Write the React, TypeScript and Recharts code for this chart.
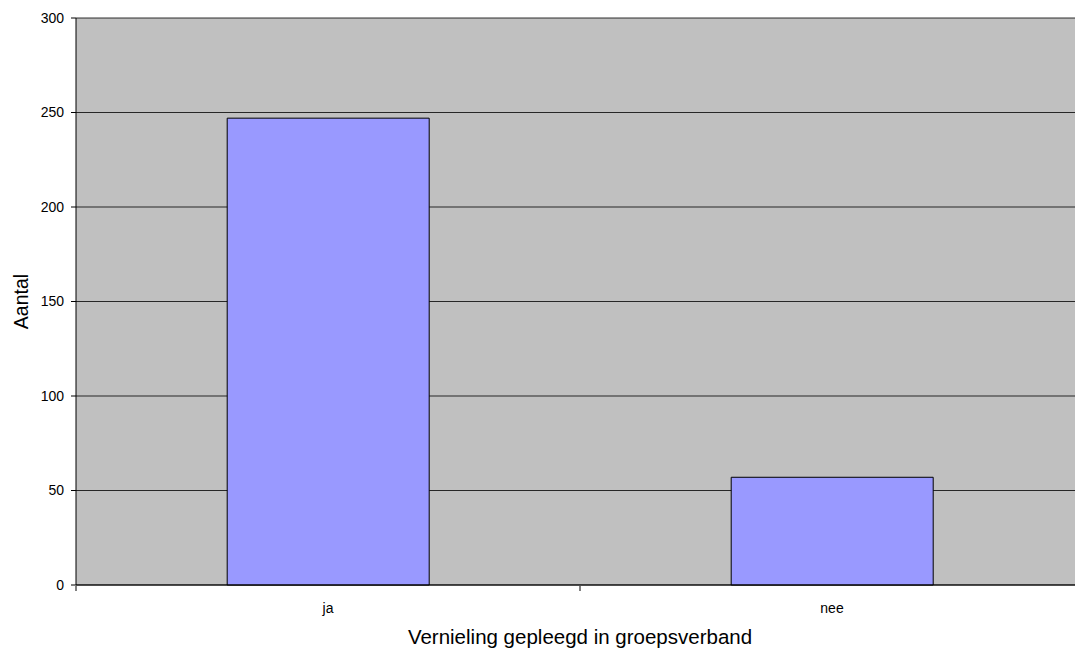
import { Bar, BarChart, CartesianGrid, XAxis, YAxis, Label } from "recharts";

const categories = ["ja", "nee"];
const counts = [247, 57];
const yTicks = [0, 50, 100, 150, 200, 250, 300];

const data = categories.map((name, i) => ({ name, aantal: counts[i] }));

const font = "Arial, 'Liberation Sans', sans-serif";
const halfBand = 252;

// category labels plus Excel-style tick marks between the categories
function CategoryTick(props: any) {
  const { x, y, payload, index } = props;
  return (
    <g>
      {index === 0 && <line x1={x - halfBand} x2={x - halfBand} y1={y - 17} y2={y - 12} stroke="#000" />}
      <line x1={x + halfBand} x2={x + halfBand} y1={y - 17} y2={y - 12} stroke="#000" />
      <text x={x} y={y + 10} textAnchor="middle" fill="#000" fontSize={14} fontFamily={font}>
        {payload.value}
      </text>
    </g>
  );
}

export default function App() {
  return (
    <div style={{ position: "absolute", left: 0, top: 0, width: 1075, height: 650, overflow: "hidden", background: "#fff" }}>
      <BarChart
        width={1084}
        height={650}
        data={data}
        barCategoryGap="30%"
        margin={{ top: 18, right: 0, left: 0, bottom: 0 }}
        style={{ fontFamily: font }}
      >
        <CartesianGrid horizontal vertical={false} stroke="#000" strokeOpacity={0.8} fill="#c0c0c0" fillOpacity={1} />
        <YAxis
          domain={[0, 300]}
          ticks={yTicks}
          width={76}
          tick={{ fill: "#000", fontSize: 14, fontFamily: font }}
          tickLine={{ stroke: "#000" }}
          tickSize={5}
          tickMargin={7}
          axisLine={{ stroke: "#000" }}
        >
          <Label value="Aantal" angle={-90} position="insideLeft" offset={21} style={{ fill: "#000", fontSize: 19.5, textAnchor: "middle", fontFamily: font }} />
        </YAxis>
        <XAxis
          dataKey="name"
          height={65}
          tickLine={false}
          axisLine={{ stroke: "#000" }}
          tick={<CategoryTick />}
          tickMargin={12}
        >
          <Label value="Vernieling gepleegd in groepsverband" position="insideBottom" offset={6} style={{ fill: "#000", fontSize: 20.5, fontFamily: font }} />
        </XAxis>
        <Bar dataKey="aantal" fill="#9999ff" stroke="#000" strokeWidth={1} isAnimationActive={false} />
      </BarChart>
    </div>
  );
}
